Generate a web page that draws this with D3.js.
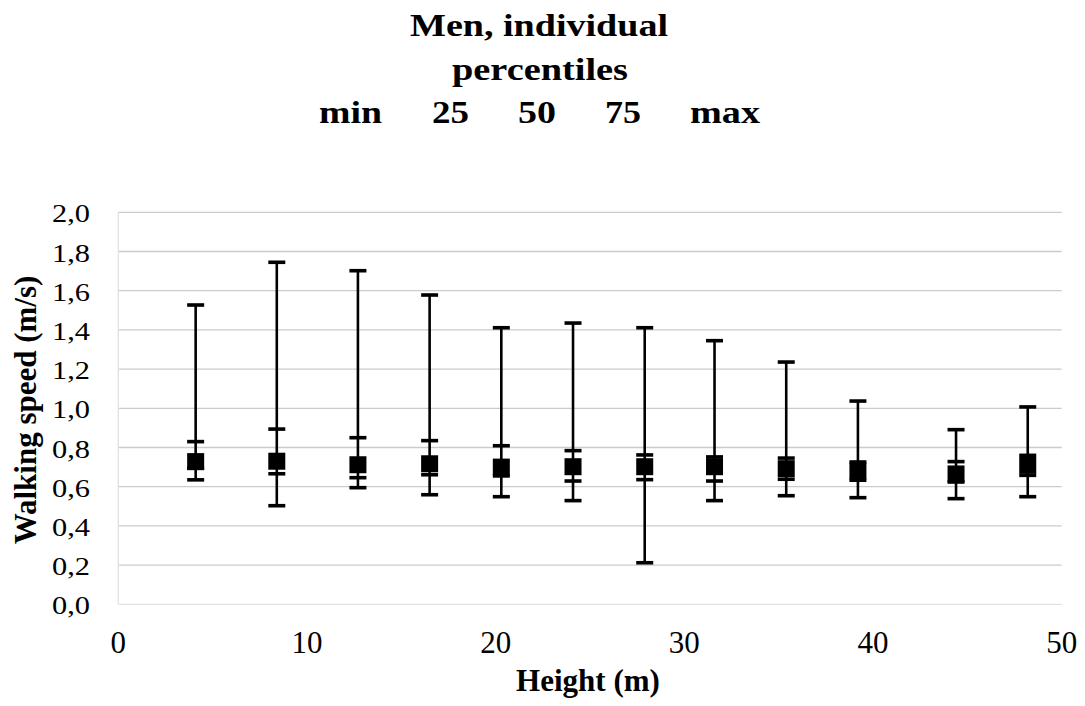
<!DOCTYPE html>
<html>
<head>
<meta charset="utf-8">
<script src="https://cdn.jsdelivr.net/npm/d3@7"></script>
<style>
  body { margin: 0; background: #fff; }
  svg { display: block; }
</style>
</head>
<body>
<script>
// ---- data ----
const heights = [4.1, 8.4, 12.7, 16.5, 20.3, 24.1, 27.9, 31.6, 35.4, 39.2, 44.4, 48.2];
const pMin = [0.635, 0.503, 0.595, 0.559, 0.549, 0.529, 0.212, 0.529, 0.554, 0.544, 0.539, 0.549];
const p25  = [0.694, 0.666, 0.646, 0.661, 0.655, 0.629, 0.636, 0.629, 0.638, 0.633, 0.624, 0.658];
const p50  = [0.728, 0.730, 0.712, 0.717, 0.700, 0.702, 0.702, 0.702, 0.692, 0.680, 0.665, 0.709];
const p75  = [0.830, 0.894, 0.850, 0.835, 0.809, 0.784, 0.762, 0.752, 0.746, 0.726, 0.728, 0.760];
const pMax = [1.527, 1.745, 1.702, 1.578, 1.411, 1.435, 1.411, 1.345, 1.236, 1.037, 0.891, 1.007];
const xTicks = [0, 10, 20, 30, 40, 50];
const yTicks = [0, 0.2, 0.4, 0.6, 0.8, 1.0, 1.2, 1.4, 1.6, 1.8, 2.0];
const titleLine1 = "Men, individual";
const titleLine2 = "percentiles";
const titleWords = ["min", "25", "50", "75", "max"];
const yTitle = "Walking speed (m/s)";
const xTitle = "Height (m)";

// ---- layout ----
const W = 1085, H = 706;
const svg = d3.select("body").append("svg").attr("width", W).attr("height", H);
const x = d3.scaleLinear().domain([0, 50]).range([118.3, 1061.7]);
const y = d3.scaleLinear().domain([0, 2]).range([604.3, 212.3]);
const serif = "'Liberation Serif', 'Times New Roman', serif";

// gridlines
svg.append("g").selectAll("line").data(yTicks.filter(d => d > 0)).join("line")
  .attr("x1", x(0)).attr("x2", x(50))
  .attr("y1", d => y(d)).attr("y2", d => y(d))
  .attr("stroke", "#cbcbcb").attr("stroke-width", 1.3);

// axis lines (light)
svg.append("line").attr("x1", x(0)).attr("x2", x(50)).attr("y1", y(0)).attr("y2", y(0))
  .attr("stroke", "#e2e2e2").attr("stroke-width", 1.3);
svg.append("line").attr("x1", x(0)).attr("x2", x(0)).attr("y1", y(0)).attr("y2", y(2))
  .attr("stroke", "#e2e2e2").attr("stroke-width", 1.3);

// y tick labels
const fmt = d => d3.format(".1f")(d).replace(".", ",");
svg.append("g").selectAll("text").data(yTicks).join("text")
  .attr("x", 90).attr("y", d => y(d) + 10)
  .attr("text-anchor", "end")
  .attr("font-family", serif).attr("font-size", 25)
  .attr("textLength", 38).attr("lengthAdjust", "spacingAndGlyphs")
  .text(fmt);

// x tick labels
svg.append("g").selectAll("text").data(xTicks).join("text")
  .attr("x", d => x(d)).attr("y", 653)
  .attr("text-anchor", "middle")
  .attr("font-family", serif).attr("font-size", 31)
  .text(d => d);

// error bars
const rows = heights.map((h, i) => ({h, mn: pMin[i], q1: p25[i], md: p50[i], q3: p75[i], mx: pMax[i]}));
const g = svg.append("g");
g.selectAll("line.stem").data(rows).join("line").attr("class", "stem")
  .attr("x1", d => x(d.h)).attr("x2", d => x(d.h))
  .attr("y1", d => y(d.mn)).attr("y2", d => y(d.mx))
  .attr("stroke", "#000").attr("stroke-width", 2.6);
const capW = 17;
["mn", "q1", "q3", "mx"].forEach(k => {
  g.selectAll("line.cap-" + k).data(rows).join("line").attr("class", "cap-" + k)
    .attr("x1", d => x(d.h) - capW / 2).attr("x2", d => x(d.h) + capW / 2)
    .attr("y1", d => y(d[k])).attr("y2", d => y(d[k]))
    .attr("stroke", "#000").attr("stroke-width", 3.6);
});
const sq = 17;
g.selectAll("rect").data(rows).join("rect")
  .attr("x", d => x(d.h) - sq / 2).attr("y", d => y(d.md) - sq / 2)
  .attr("width", sq).attr("height", sq).attr("fill", "#000");

// title
const t = svg.append("g").attr("font-family", serif).attr("font-weight", "bold")
  .attr("font-size", 32).attr("text-anchor", "middle");
t.append("text").attr("x", 539).attr("y", 36)
  .attr("textLength", 258).attr("lengthAdjust", "spacingAndGlyphs").text(titleLine1);
t.append("text").attr("x", 540).attr("y", 80)
  .attr("textLength", 176).attr("lengthAdjust", "spacingAndGlyphs").text(titleLine2);
const wordX = [350.5, 450.5, 537, 623, 725];
const wordW = [63, 37, 38, 36, 70];
t.selectAll("text.w").data(titleWords).join("text").attr("class", "w")
  .attr("x", (d, i) => wordX[i]).attr("y", 123)
  .attr("textLength", (d, i) => wordW[i]).attr("lengthAdjust", "spacingAndGlyphs")
  .text(d => d);

// axis titles
svg.append("text")
  .attr("transform", "translate(36,410) rotate(-90)")
  .attr("text-anchor", "middle").attr("font-family", serif)
  .attr("font-weight", "bold").attr("font-size", 31)
  .text(yTitle);
svg.append("text")
  .attr("x", 588).attr("y", 691)
  .attr("text-anchor", "middle").attr("font-family", serif)
  .attr("font-weight", "bold").attr("font-size", 31)
  .text(xTitle);
</script>
</body>
</html>
